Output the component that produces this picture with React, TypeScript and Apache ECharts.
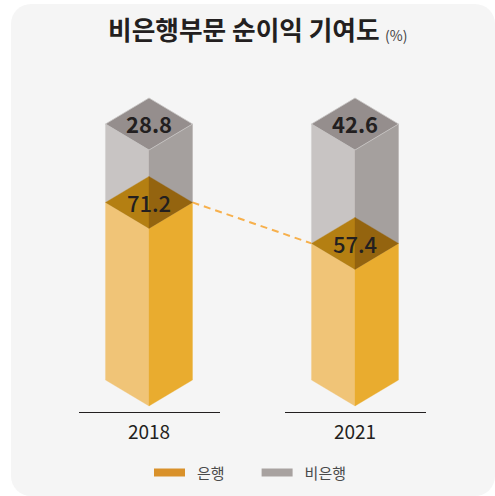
import React, { useEffect, useRef } from "react";
import * as echarts from "echarts";

const categories = ["2018", "2021"];
const bankValues = [71.2, 57.4];
const nonBankValues = [28.8, 42.6];
const titleText = "비은행부문 순이익 기여도";
const unitText = "(%)";
const axisMin = 11.4;
const axisMax = 97.6;

const font = "'Noto Sans CJK KR', 'Noto Sans', sans-serif";
const HALF_RATIO = 0.2112;
const DIAMOND = 26;

const poly = (points: number[][], fill: string, stroke?: string) => ({
  type: "polygon",
  shape: { points },
  style: { fill, stroke: stroke || fill, lineWidth: stroke ? 0.8 : 0.3 },
});

const label = (text: string, x: number, y: number, weight: number | string) => ({
  type: "text",
  style: {
    text,
    x,
    y,
    fill: "#231f20",
    font: `${weight} 22px ${font}`,
    align: "center",
    verticalAlign: "middle",
  },
  z2: 10,
});

export default function App() {
  const ref = useRef<HTMLDivElement>(null);
  useEffect(() => {
    const chart = echarts.init(ref.current!, undefined, { renderer: "svg" });
    chart.setOption({
      animation: false,
      backgroundColor: "#ffffff",
      graphic: [
        {
          type: "rect",
          z: -10,
          silent: true,
          shape: { x: 11, y: 4, width: 484, height: 492, r: 20 },
          style: { fill: "#f5f5f5" },
        },
        {
          type: "text",
          left: 108,
          top: 16,
          style: { text: titleText, fill: "#231f20", font: `700 25.7px ${font}` },
        },
        {
          type: "text",
          left: 385,
          top: 28,
          style: { text: unitText, fill: "#444444", font: `400 14px ${font}` },
        },
      ],
      legend: {
        left: 149,
        top: 460,
        itemWidth: 31,
        itemHeight: 8,
        itemGap: 37,
        icon: "rect",
        data: ["은행", "비은행"],
        textStyle: { color: "#4a4a4a", fontSize: 15, fontFamily: font, padding: [0, 0, 0, 7] },
      },
      grid: { left: 46, width: 412, top: 124, height: 256 },
      xAxis: {
        type: "category",
        data: categories,
        axisLine: { show: false },
        axisTick: { show: false },
        axisLabel: { color: "#231f20", fontSize: 19, fontFamily: font, margin: 41 },
      },
      yAxis: { type: "value", min: axisMin, max: axisMax, show: false },
      series: [
        {
          name: "비은행",
          type: "custom",
          itemStyle: { color: "#a8a2a0" },
          data: nonBankValues.map((v, i) => [i, bankValues[i], v]),
          renderItem: (_p: any, api: any) => {
            const [cx, yB] = api.coord([api.value(0), api.value(1)]);
            const yT = api.coord([api.value(0), axisMax])[1];
            const w = api.size([1, 0])[0] * HALF_RATIO;
            const d = DIAMOND;
            return {
              type: "group",
              children: [
                poly([[cx - w, yT], [cx, yT + d], [cx, yB + d], [cx - w, yB]], "#c8c4c3"),
                poly([[cx + w, yT], [cx, yT + d], [cx, yB + d], [cx + w, yB]], "#a5a09e"),
                poly([[cx - w, yT], [cx, yT - d], [cx + w, yT], [cx, yT + d]], "#958e8d", "#c9c6c5"),
                label(api.value(2).toFixed(1), cx, yT - 1, 700),
              ],
            };
          },
        },
        {
          name: "은행",
          type: "custom",
          itemStyle: { color: "#d9912a" },
          data: bankValues.map((v, i) => [i, v]),
          renderItem: (_p: any, api: any) => {
            const [cx, yB] = api.coord([api.value(0), api.value(1)]);
            const y0 = api.coord([api.value(0), axisMin])[1];
            const w = api.size([1, 0])[0] * HALF_RATIO;
            const d = DIAMOND;
            return {
              type: "group",
              children: [
                poly([[cx - w, yB], [cx, yB + d], [cx, y0 + d], [cx - w, y0]], "#f0c477"),
                poly([[cx + w, yB], [cx, yB + d], [cx, y0 + d], [cx + w, y0]], "#e9ac2f"),
                poly([[cx - w, yB], [cx, yB - d], [cx, yB + d]], "#b47f12"),
                poly([[cx + w, yB], [cx, yB - d], [cx, yB + d]], "#94640f"),
                label(api.value(1).toFixed(1), cx, yB, 500),
                {
                  type: "line",
                  shape: { x1: cx - 70, y1: y0 + 32.5, x2: cx + 71, y2: y0 + 32.5 },
                  style: { stroke: "#231f20", lineWidth: 1 },
                },
              ],
            };
          },
        },
        {
          type: "custom",
          silent: true,
          z: 1,
          data: [[0, bankValues[0], 1, bankValues[1]]],
          renderItem: (_p: any, api: any) => {
            const a = api.coord([api.value(0), api.value(1)]);
            const b = api.coord([api.value(2), api.value(3)]);
            const w = api.size([1, 0])[0] * HALF_RATIO;
            return {
              type: "line",
              shape: { x1: a[0] + w, y1: a[1], x2: b[0] - w, y2: b[1] },
              style: { stroke: "#f7b04c", lineWidth: 2, lineDash: [7, 5] },
            };
          },
        },
      ],
    });
    return () => chart.dispose();
  }, []);
  return (
    <div
      ref={ref}
      style={{ position: "fixed", left: 0, top: 0, width: 495, height: 496 }}
    />
  );
}
